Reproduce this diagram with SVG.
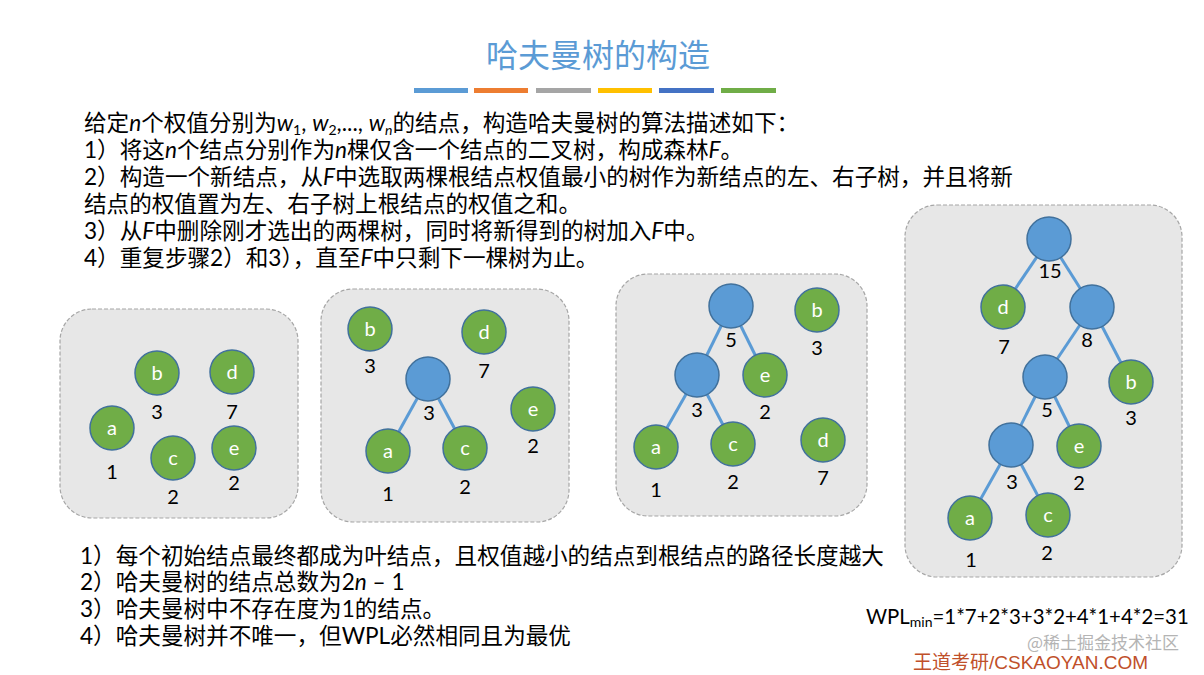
<svg xmlns="http://www.w3.org/2000/svg" width="1204" height="675" viewBox="0 0 1204 675">
<style>
.bg{fill:#ffffff}
.panel{fill:#e7e7e7;stroke:#a6a6a6;stroke-width:1.2;stroke-dasharray:4 2}
.leaf{fill:#70ad47;stroke:#41719c;stroke-width:1.5}
.inner{fill:#5b9bd5;stroke:#41719c;stroke-width:1.5}
.edge{stroke:#5b9bd5;stroke-width:3;fill:none}
.nl{font-family:Lato,"Noto Sans CJK SC",sans-serif;font-size:20px;fill:#ffffff;text-anchor:middle}
.wl{font-family:Lato,"Noto Sans CJK SC",sans-serif;font-size:20px;fill:#000000;text-anchor:middle}
.tx{font-family:Lato,"Noto Sans CJK SC",sans-serif;font-size:22.6px;fill:#000000}
.it{font-style:italic}
.sub{font-size:14px}
.title{font-family:"Noto Sans CJK SC",sans-serif;font-size:32px;fill:#5b9bd5;text-anchor:middle}
</style>
<rect class="bg" x="0" y="0" width="1204" height="675"/>
<text class="title" x="598" y="67">哈夫曼树的构造</text>
<g id="bars">
<rect x="414" y="88" width="54" height="5" fill="#5b9bd5"/>
<rect x="474" y="88" width="54" height="5" fill="#ed7d31"/>
<rect x="536" y="88" width="55" height="5" fill="#a5a5a5"/>
<rect x="598" y="88" width="54" height="5" fill="#ffc000"/>
<rect x="659" y="88" width="55" height="5" fill="#4472c4"/>
<rect x="721" y="88" width="55" height="5" fill="#70ad47"/>
</g>
<g id="intro">
<text class="tx" x="84" y="131">给定<tspan class="it">n</tspan>个权值分别为<tspan class="it">w</tspan><tspan class="sub" baseline-shift="-4">1</tspan>, <tspan class="it">w</tspan><tspan class="sub" baseline-shift="-4">2</tspan>,..., <tspan class="it">w</tspan><tspan class="sub it" baseline-shift="-4">n</tspan>的结点，构造哈夫曼树的算法描述如下：</text>
<text class="tx" x="84" y="158">1）将这<tspan class="it">n</tspan>个结点分别作为<tspan class="it">n</tspan>棵仅含一个结点的二叉树，构成森林<tspan class="it">F</tspan>。</text>
<text class="tx" x="84" y="185">2）构造一个新结点，从<tspan class="it">F</tspan>中选取两棵根结点权值最小的树作为新结点的左、右子树，并且将新</text>
<text class="tx" x="84" y="212">结点的权值置为左、右子树上根结点的权值之和。</text>
<text class="tx" x="84" y="239">3）从<tspan class="it">F</tspan>中删除刚才选出的两棵树，同时将新得到的树加入<tspan class="it">F</tspan>中。</text>
<text class="tx" x="84" y="266">4）重复步骤2）和3），直至<tspan class="it">F</tspan>中只剩下一棵树为止。</text>
</g>
<g id="panels">
<rect class="panel" x="60" y="309" width="238" height="209" rx="32"/>
<rect class="panel" x="321" y="289" width="248" height="233" rx="32"/>
<rect class="panel" x="616" y="274" width="251" height="242" rx="32"/>
<rect class="panel" x="905" y="205" width="277" height="372" rx="32"/>
</g>
<g id="connectors">
<line class="edge" x1="428" y1="379" x2="388" y2="451"/>
<line class="edge" x1="428" y1="379" x2="465" y2="448"/>
<line class="edge" x1="731" y1="306" x2="697" y2="375"/>
<line class="edge" x1="731" y1="306" x2="765" y2="375"/>
<line class="edge" x1="697" y1="375" x2="656" y2="447"/>
<line class="edge" x1="697" y1="375" x2="733" y2="444"/>
<line class="edge" x1="1049" y1="239" x2="1003" y2="307"/>
<line class="edge" x1="1049" y1="239" x2="1092" y2="307"/>
<line class="edge" x1="1092" y1="307" x2="1045" y2="377"/>
<line class="edge" x1="1092" y1="307" x2="1131" y2="382"/>
<line class="edge" x1="1045" y1="377" x2="1011" y2="445"/>
<line class="edge" x1="1045" y1="377" x2="1079" y2="446"/>
<line class="edge" x1="1011" y1="445" x2="970" y2="518"/>
<line class="edge" x1="1011" y1="445" x2="1048" y2="515"/>
</g>
<!-- panel 1 -->
<g id="p1-b"><circle class="leaf" cx="157" cy="373" r="22"/><text class="nl" x="157" y="380">b</text><text class="wl" x="157" y="419">3</text></g>
<g id="p1-d"><circle class="leaf" cx="232" cy="372" r="22"/><text class="nl" x="232" y="379">d</text><text class="wl" x="232" y="419">7</text></g>
<g id="p1-a"><circle class="leaf" cx="112" cy="428" r="22"/><text class="nl" x="112" y="435">a</text><text class="wl" x="112" y="479">1</text></g>
<g id="p1-c"><circle class="leaf" cx="173" cy="458" r="22"/><text class="nl" x="173" y="465">c</text><text class="wl" x="173" y="504">2</text></g>
<g id="p1-e"><circle class="leaf" cx="234" cy="448" r="22"/><text class="nl" x="234" y="455">e</text><text class="wl" x="234" y="490">2</text></g>
<!-- panel 2 -->
<g id="p2-b"><circle class="leaf" cx="370" cy="329" r="22"/><text class="nl" x="370" y="336">b</text><text class="wl" x="370" y="373">3</text></g>
<g id="p2-d"><circle class="leaf" cx="484" cy="332" r="22"/><text class="nl" x="484" y="339">d</text><text class="wl" x="484" y="378">7</text></g>
<g id="p2-n3"><circle class="inner" cx="428" cy="379" r="22"/><text class="wl" x="429" y="420">3</text></g>
<g id="p2-e"><circle class="leaf" cx="533" cy="409" r="22"/><text class="nl" x="533" y="416">e</text><text class="wl" x="533" y="453">2</text></g>
<g id="p2-a"><circle class="leaf" cx="388" cy="451" r="22"/><text class="nl" x="388" y="458">a</text><text class="wl" x="388" y="501">1</text></g>
<g id="p2-c"><circle class="leaf" cx="465" cy="448" r="22"/><text class="nl" x="465" y="455">c</text><text class="wl" x="465" y="494">2</text></g>
<!-- panel 3 -->
<g id="p3-n5"><circle class="inner" cx="731" cy="306" r="22"/><text class="wl" x="731" y="347">5</text></g>
<g id="p3-b"><circle class="leaf" cx="817" cy="310" r="22"/><text class="nl" x="817" y="317">b</text><text class="wl" x="817" y="355">3</text></g>
<g id="p3-n3"><circle class="inner" cx="697" cy="375" r="22"/><text class="wl" x="697" y="417">3</text></g>
<g id="p3-e"><circle class="leaf" cx="765" cy="375" r="22"/><text class="nl" x="765" y="382">e</text><text class="wl" x="765" y="419">2</text></g>
<g id="p3-a"><circle class="leaf" cx="656" cy="447" r="22"/><text class="nl" x="656" y="454">a</text><text class="wl" x="656" y="497">1</text></g>
<g id="p3-c"><circle class="leaf" cx="733" cy="444" r="22"/><text class="nl" x="733" y="451">c</text><text class="wl" x="733" y="489">2</text></g>
<g id="p3-d"><circle class="leaf" cx="823" cy="440" r="22"/><text class="nl" x="823" y="447">d</text><text class="wl" x="823" y="485">7</text></g>
<!-- panel 4 -->
<g id="p4-n15"><circle class="inner" cx="1049" cy="239" r="22"/><text class="wl" x="1050" y="278">15</text></g>
<g id="p4-d"><circle class="leaf" cx="1003" cy="307" r="22"/><text class="nl" x="1003" y="314">d</text><text class="wl" x="1004" y="354">7</text></g>
<g id="p4-n8"><circle class="inner" cx="1092" cy="307" r="22"/><text class="wl" x="1087" y="347">8</text></g>
<g id="p4-n5"><circle class="inner" cx="1045" cy="377" r="22"/><text class="wl" x="1047" y="417">5</text></g>
<g id="p4-b"><circle class="leaf" cx="1131" cy="382" r="22"/><text class="nl" x="1131" y="389">b</text><text class="wl" x="1131" y="425">3</text></g>
<g id="p4-n3"><circle class="inner" cx="1011" cy="445" r="22"/><text class="wl" x="1012" y="489">3</text></g>
<g id="p4-e"><circle class="leaf" cx="1079" cy="446" r="22"/><text class="nl" x="1079" y="453">e</text><text class="wl" x="1079" y="490">2</text></g>
<g id="p4-a"><circle class="leaf" cx="970" cy="518" r="22"/><text class="nl" x="970" y="525">a</text><text class="wl" x="971" y="567">1</text></g>
<g id="p4-c"><circle class="leaf" cx="1048" cy="515" r="22"/><text class="nl" x="1048" y="522">c</text><text class="wl" x="1047" y="560">2</text></g>
<g id="notes">
<text class="tx" x="80" y="564">1）每个初始结点最终都成为叶结点，且权值越小的结点到根结点的路径长度越大</text>
<text class="tx" x="80" y="590">2）哈夫曼树的结点总数为2<tspan class="it">n</tspan> – 1</text>
<text class="tx" x="80" y="617">3）哈夫曼树中不存在度为1的结点。</text>
<text class="tx" x="80" y="644">4）哈夫曼树并不唯一，但WPL必然相同且为最优</text>
</g>
<text class="tx" x="866" y="624" style="font-size:20.4px">WPL<tspan class="sub" baseline-shift="-3">min</tspan>=1*7+2*3+3*2+4*1+4*2=31</text>
<text x="1027" y="649" style="font-family:'Noto Sans CJK SC',sans-serif;font-size:17px;fill:#b4b4b4">@稀土掘金技术社区</text>
<text x="913" y="669" style="font-family:'Liberation Sans','Noto Sans CJK SC',sans-serif;font-size:19px;fill:#c0502a">王道考研/CSKAOYAN.COM</text>
</svg>
